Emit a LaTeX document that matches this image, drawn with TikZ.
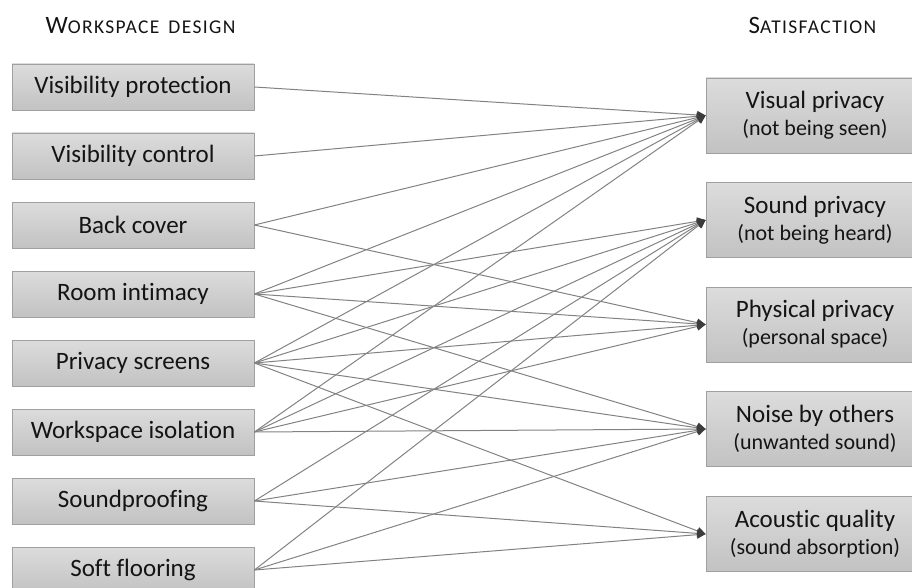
\documentclass[tikz,border=0pt]{standalone}
\usepackage{fontspec}
\setmainfont[Ligatures=NoCommon]{Carlito}
\newfontfamily\hdrfont[Ligatures=NoCommon,LetterSpace=7]{Carlito}
\usetikzlibrary{arrows.meta}
\definecolor{boxtop}{RGB}{220,220,220}
\definecolor{boxbot}{RGB}{194,194,194}
\definecolor{boxline}{RGB}{160,160,160}
\definecolor{linkgray}{RGB}{130,130,130}
\definecolor{tipgray}{RGB}{60,60,60}
\definecolor{txt}{RGB}{20,20,20}
\tikzset{
  lbox/.style={draw=boxline, line width=0.8pt, top color=boxtop, bottom color=boxbot,
    minimum width=242pt, minimum height=46pt, inner sep=0pt, text=txt,
    font=\fontsize{25}{30}\selectfont},
  rbox/.style={draw=boxline, line width=0.8pt, top color=boxtop, bottom color=boxbot,
    minimum width=218pt, minimum height=75pt, inner sep=0pt, text=txt, align=center,
    font=\fontsize{22}{27}\selectfont},
  hdr/.style={anchor=base, text=txt, inner sep=0pt, font=\hdrfont},
  link/.style={draw=linkgray, line width=1pt, -{Triangle[length=8.5pt,width=8pt,color=tipgray]}}
}
\newcommand{\mybigline}[1]{{\fontsize{25}{27}\selectfont #1}}
\newcommand{\mysmallline}[1]{{\fontsize{22}{27}\selectfont #1}}
\newcommand{\mysch}[2]{{\fontsize{25}{30}\selectfont #1}{\fontsize{19.5}{30}\selectfont #2}}
\begin{document}
\begin{tikzpicture}[x=1pt,y=-1pt]
\useasboundingbox (0,0) rectangle (912,588);
% headers
\node[hdr] (h1) at (140.5,34) {\mysch{W}{ORKSPACE}\hspace{9pt}\mysch{}{DESIGN}};
\node[hdr] (h2) at (812.5,34) {\mysch{S}{ATISFACTION}};
% left boxes
\node[lbox] (l1) at (133,87) {Visibility protection};
\node[lbox] (l2) at (133,156) {Visibility control};
\node[lbox] (l3) at (133,225) {Back cover};
\node[lbox] (l4) at (133,294) {Room intimacy};
\node[lbox] (l5) at (133,363) {Privacy screens};
\node[lbox] (l6) at (133,432) {Workspace isolation};
\node[lbox] (l7) at (133,501) {Soundproofing};
\node[lbox] (l8) at (133,570) {Soft flooring};
% right boxes
\node[rbox] (r1) at (815,115.5) {\mybigline{Visual privacy}\\\mysmallline{(not being seen)}};
\node[rbox] (r2) at (815,220) {\mybigline{Sound privacy}\\\mysmallline{(not being heard)}};
\node[rbox] (r3) at (815,324.5) {\mybigline{Physical privacy}\\\mysmallline{(personal space)}};
\node[rbox] (r4) at (815,429) {\mybigline{Noise by others}\\\mysmallline{(unwanted sound)}};
\node[rbox] (r5) at (815,534) {\mybigline{Acoustic quality}\\\mysmallline{(sound absorption)}};
% connectors
\foreach \a/\b in {l1/r1,l2/r1,l3/r1,l4/r1,l5/r1,l6/r1,
                   l4/r2,l5/r2,l6/r2,l7/r2,l8/r2,
                   l3/r3,l4/r3,l5/r3,l6/r3,
                   l4/r4,l5/r4,l6/r4,l7/r4,l8/r4,
                   l5/r5,l7/r5,l8/r5}
  \draw[link] (\a.east) -- (\b.west);
\end{tikzpicture}
\end{document}
